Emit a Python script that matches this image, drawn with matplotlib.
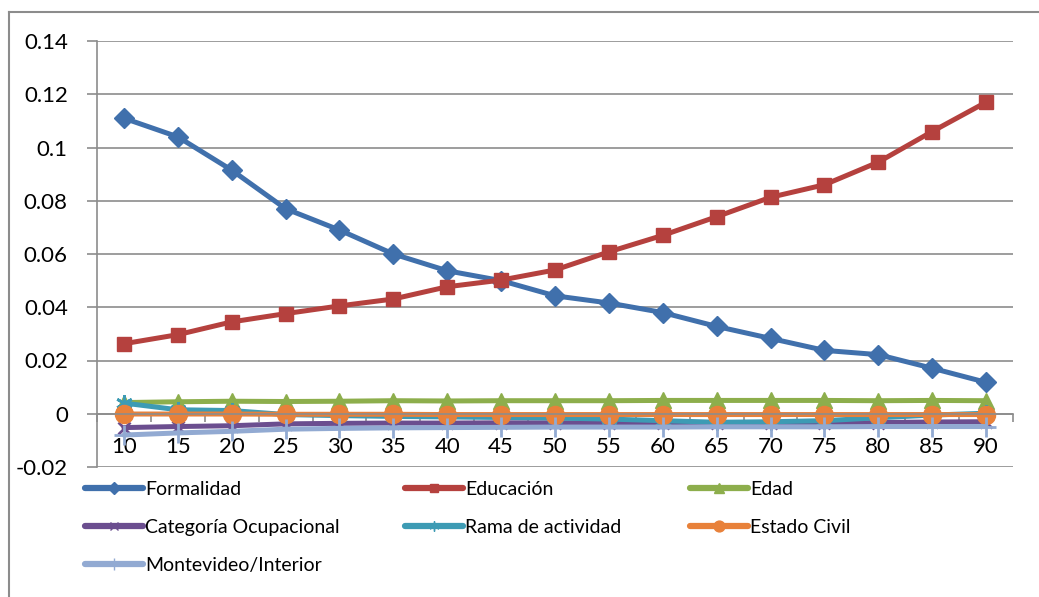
import numpy as np
import matplotlib
matplotlib.use("Agg")
import matplotlib.pyplot as plt
from matplotlib.lines import Line2D

plt.rcParams['font.family'] = ['Lato', 'DejaVu Sans']

categorias = [10, 15, 20, 25, 30, 35, 40, 45, 50, 55, 60, 65, 70, 75, 80, 85, 90]

formalidad = [0.111, 0.104, 0.0915, 0.077, 0.069, 0.060, 0.0537, 0.050, 0.0443, 0.0416,
              0.038, 0.0328, 0.0283, 0.0238, 0.0222, 0.0171, 0.0118]
educacion = [0.0263, 0.0297, 0.0345, 0.0376, 0.0405, 0.0431, 0.0477, 0.0502, 0.0540, 0.0608,
             0.0670, 0.0740, 0.0813, 0.0860, 0.0945, 0.1060, 0.1170]
edad = [0.0042, 0.0045, 0.0047, 0.0046, 0.0047, 0.0049, 0.0048, 0.0049, 0.0049, 0.0049,
        0.0050, 0.0050, 0.0050, 0.0050, 0.0049, 0.0050, 0.0049]
cat_ocupacional = [-0.0052, -0.0048, -0.0045, -0.0038, -0.0036, -0.0035, -0.0035, -0.0034, -0.0034, -0.0034,
                   -0.0035, -0.0036, -0.0036, -0.0036, -0.0033, -0.0031, -0.0030]
rama = [0.0040, 0.0015, 0.0012, -0.0003, -0.0007, -0.0010, -0.0012, -0.0014, -0.0016, -0.0020,
        -0.0026, -0.0032, -0.0030, -0.0026, -0.0015, -0.0005, 0.0002]
estado_civil = [-0.0001, -0.0001, -0.0001, -0.0002, -0.0002, -0.0002, -0.0003, -0.0003, -0.0003, -0.0003,
                -0.0003, -0.0003, -0.0003, -0.0003, -0.0003, -0.0003, -0.0003]
montevideo = [-0.0080, -0.0072, -0.0066, -0.0058, -0.0055, -0.0053, -0.0052, -0.0051, -0.0050, -0.0050,
              -0.0050, -0.0049, -0.0049, -0.0049, -0.0048, -0.0048, -0.0048]

# nombre, valores, color, marcador, tamaño
series = [
    ("Formalidad", formalidad, "#4070AC", "D", 10),
    ("Educación", educacion, "#B5413E", "s", 10),
    ("Edad", edad, "#8DAE4C", "^", 11),
    ("Categoría Ocupacional", cat_ocupacional, "#6B4E8F", "x", 9),
    ("Rama de actividad", rama, "#3D9BB4", (6, 2, 0), 12),
    ("Estado Civil", estado_civil, "#E8813A", "o", 13),
    ("Montevideo/Interior", montevideo, "#92AAD2", "+", 14),
]

fig = plt.figure(figsize=(10.39, 5.97), dpi=100)
ax = fig.add_axes([97/1039, 1 - 467/597, (1013 - 97)/1039, (467 - 41)/597])

x = np.arange(len(categorias))
handles = []
for nombre, vals, color, mk, ms in series:
    ln, = ax.plot(x, vals, color=color, lw=3.6, marker=mk, markersize=ms,
                  markeredgewidth=2 if mk in ("x", "+", (6, 2, 0)) else 1,
                  markerfacecolor=color, markeredgecolor=color, label=nombre,
                  solid_capstyle='round', clip_on=False)
    handles.append(ln)

ax.set_xlim(-0.5, len(categorias) - 0.5)
ax.set_ylim(-0.02, 0.14)
ax.set_yticks(np.arange(-0.02, 0.141, 0.02))
ax.set_yticklabels(["-0.02", "0", "0.02", "0.04", "0.06", "0.08", "0.1", "0.12", "0.14"])
ax.yaxis.grid(True, color="#8c8c8c", lw=1.2)
ax.set_axisbelow(True)

ax.set_xticks(x)
ax.set_xticklabels([str(c) for c in categorias])
ax.set_xticks(np.arange(-0.5, len(categorias), 1), minor=True)
ax.tick_params(axis='x', which='major', length=0, labelsize=16, pad=17)
ax.tick_params(axis='x', which='minor', length=6, color="#8c8c8c", width=1.2)
ax.tick_params(axis='y', which='major', length=7, color="#8c8c8c", width=1.2, labelsize=16, pad=14)

for s in ['top', 'right']:
    ax.spines[s].set_visible(False)
ax.spines['bottom'].set_position(('data', 0))
ax.spines['bottom'].set_color("#8c8c8c")
ax.spines['bottom'].set_linewidth(1.2)
ax.spines['left'].set_color("#8c8c8c")
ax.spines['left'].set_linewidth(1.2)

# leyenda en tres columnas, por filas
def handle_de(h):
    return Line2D([0], [0], color=h.get_color(), lw=4.5, marker=h.get_marker(),
                  markersize=h.get_markersize() * 0.6, markerfacecolor=h.get_color(),
                  markeredgecolor=h.get_color(), solid_capstyle='round')

columnas = [(85, [0, 3, 6]), (405, [1, 4]), (690, [2, 5])]
for x0, idx in columnas:
    leg = fig.legend([handle_de(handles[i]) for i in idx], [handles[i].get_label() for i in idx],
                     loc='upper left', bbox_to_anchor=(x0/1039, 1 - 481/597), frameon=False,
                     fontsize=14, handlelength=3.0, handletextpad=0.1, labelspacing=1.07,
                     borderpad=0, borderaxespad=0)

# marco exterior
fig.add_artist(Line2D([8.5/1039, 8.5/1039], [0, 1 - 11.5/597], color="#8c8c8c", lw=1.5))
fig.add_artist(Line2D([8.5/1039, 1], [1 - 11.5/597, 1 - 11.5/597], color="#8c8c8c", lw=1.5))

fig.savefig("out.png", dpi=100)
